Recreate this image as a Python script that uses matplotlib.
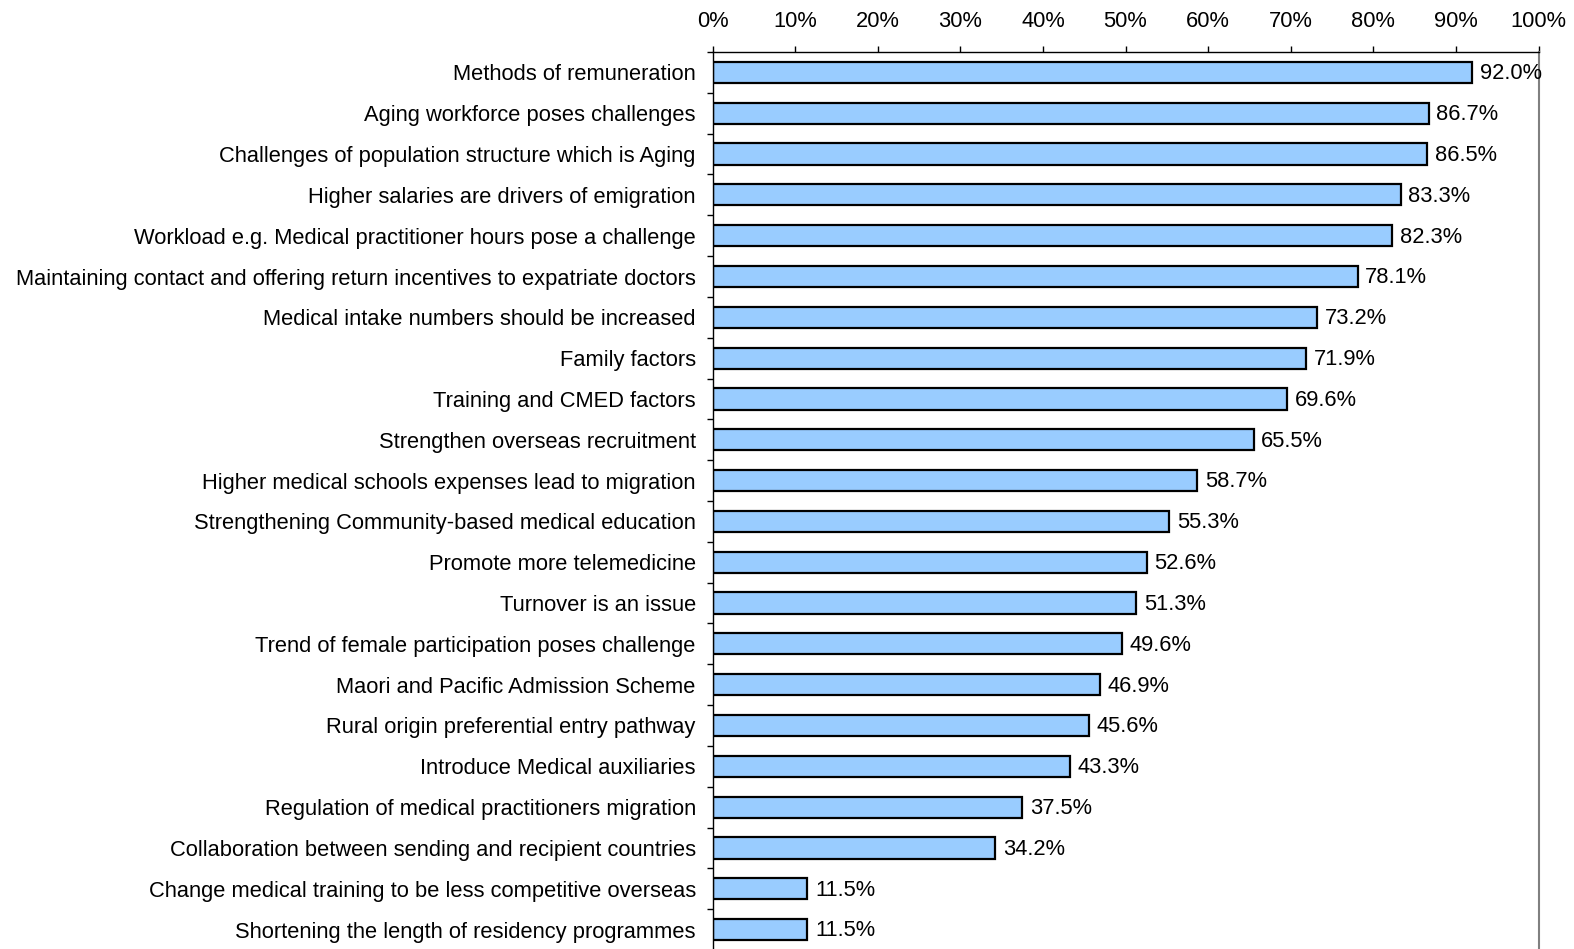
import matplotlib
matplotlib.use("Agg")
import matplotlib.pyplot as plt
from matplotlib.ticker import FixedLocator, PercentFormatter
import numpy as np

plt.rcParams['font.family'] = ['Liberation Sans', 'DejaVu Sans']

categories = [
    "Methods of remuneration",
    "Aging workforce poses challenges",
    "Challenges of population structure which is Aging",
    "Higher salaries are drivers of emigration",
    "Workload e.g. Medical practitioner hours pose a challenge",
    "Maintaining contact and offering return incentives to expatriate doctors",
    "Medical intake numbers should be increased",
    "Family factors",
    "Training and CMED factors",
    "Strengthen overseas recruitment",
    "Higher medical schools expenses lead to migration",
    "Strengthening Community-based medical education",
    "Promote more telemedicine",
    "Turnover is an issue",
    "Trend of female participation poses challenge",
    "Maori and Pacific Admission Scheme",
    "Rural origin preferential entry pathway",
    "Introduce Medical auxiliaries",
    "Regulation of medical practitioners migration",
    "Collaboration between sending and recipient countries",
    "Change medical training to be less competitive overseas",
    "Shortening the length of residency programmes",
]
values = [92.0, 86.7, 86.5, 83.3, 82.3, 78.1, 73.2, 71.9, 69.6, 65.5, 58.7,
          55.3, 52.6, 51.3, 49.6, 46.9, 45.6, 43.3, 37.5, 34.2, 11.5, 11.5]
xticks = [0, 10, 20, 30, 40, 50, 60, 70, 80, 90, 100]

FS = 15.75

fig = plt.figure(figsize=(15.74, 9.49), dpi=100)
ax = fig.add_axes([712.5/1574, 1 - 950/949, (1538.5 - 712.5)/1574, (950 - 52)/949])

n = len(categories)
y = np.arange(n)
ax.barh(y, values, height=0.52, color='#99CCFF', edgecolor='black', linewidth=1.6)
ax.set_ylim(n - 0.5, -0.5)
ax.set_xlim(0, 100)

for yi, v in zip(y, values):
    ax.annotate(f"{v:.1f}%", (v, yi), xytext=(5.5, -1), textcoords='offset points',
                va='center', ha='left', fontsize=FS)

ax.xaxis.tick_top()
ax.set_xticks(xticks)
ax.xaxis.set_major_formatter(PercentFormatter(decimals=0))
ax.tick_params(axis='x', which='major', direction='out', length=4.5, width=1,
               color='black', labelsize=FS, pad=10)

ax.set_yticks(y)
ax.set_yticklabels(categories)
ax.tick_params(axis='y', which='major', length=0, labelsize=FS, pad=12)
ax.yaxis.set_minor_locator(FixedLocator(np.arange(-0.5, n, 1.0)))
ax.tick_params(axis='y', which='minor', direction='out', length=4, width=1, color='black')

ax.spines['bottom'].set_visible(False)
ax.spines['right'].set_color('#808080')
ax.spines['right'].set_linewidth(1.5)
ax.spines['top'].set_linewidth(1)
ax.spines['left'].set_linewidth(1)

fig.savefig("out.png", dpi=100)
